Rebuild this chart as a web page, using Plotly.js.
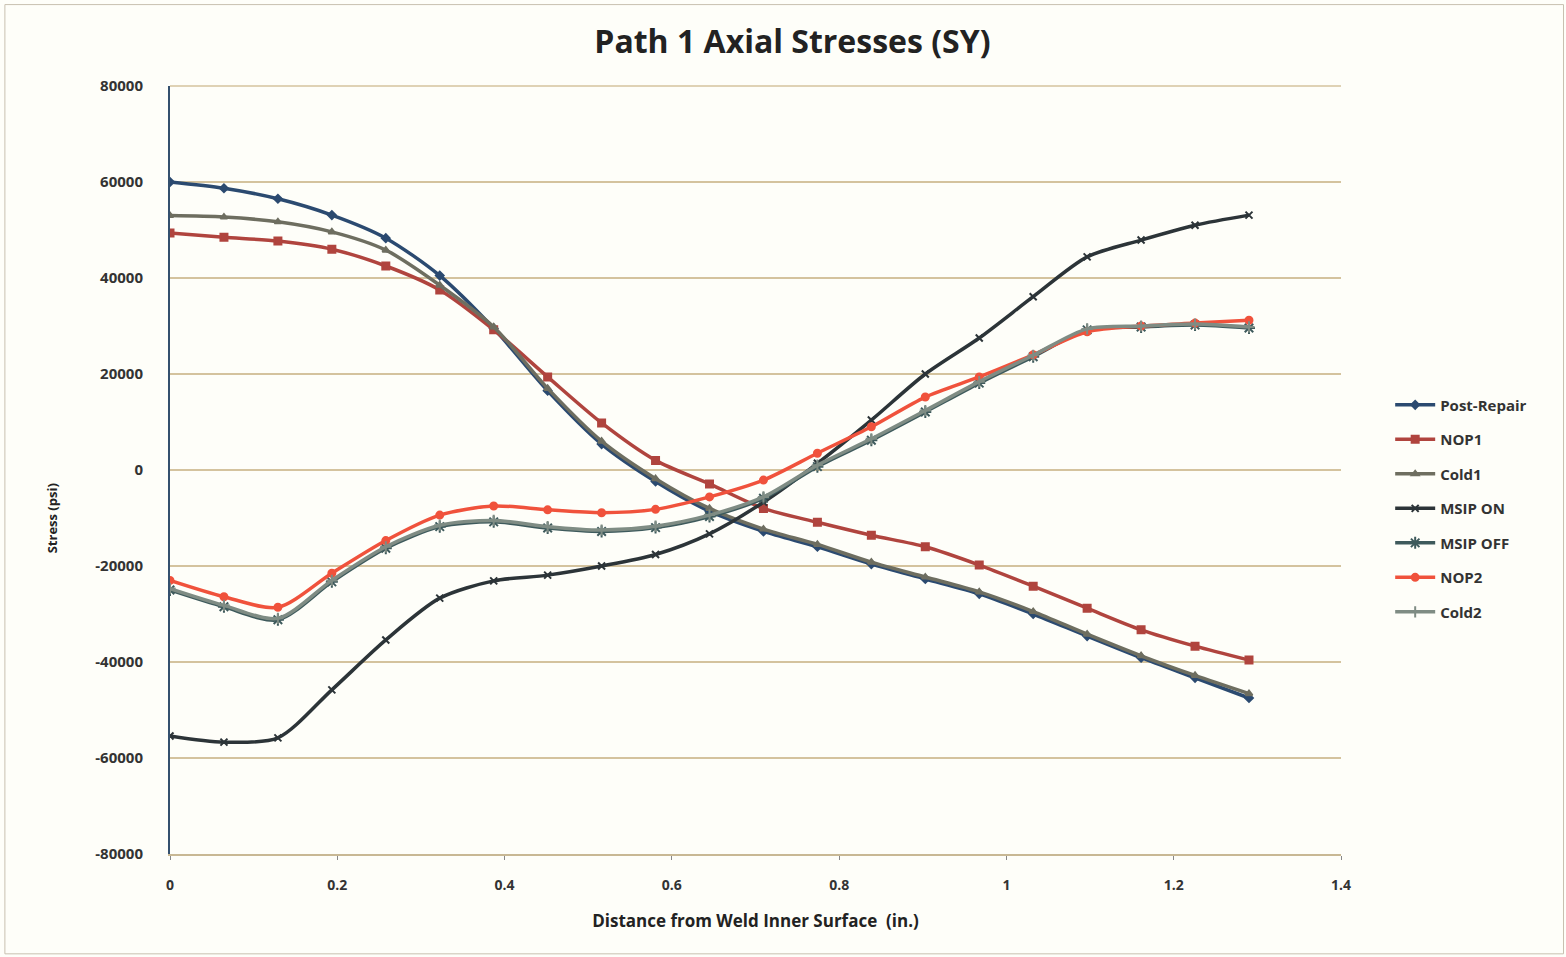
<!DOCTYPE html>
<html>
<head>
<meta charset="utf-8">
<script src="https://cdn.plot.ly/plotly-3.0.1.min.js"></script>
<style>html,body{margin:0;padding:0;background:#fefef9;}#chart{width:1566px;height:957px;}</style>
</head>
<body>
<div id="chart"></div>
<script>
// Distance from weld inner surface (in.)
const distance = [0, 0.0645, 0.129, 0.1935, 0.258, 0.3225, 0.387, 0.4515, 0.516, 0.5805, 0.645,
                  0.7095, 0.774, 0.8385, 0.903, 0.9675, 1.032, 1.0965, 1.161, 1.2255, 1.29];

const seriesNames = ["Post-Repair", "NOP1", "Cold1", "MSIP ON", "MSIP OFF", "NOP2", "Cold2"];

const postRepair = [60000, 58700, 56500, 53100, 48300, 40500, 29500, 16500, 5400, -2400, -8600,
                    -12800, -16000, -19600, -22700, -25800, -30000, -34600, -39100, -43300, -47500];
const nop1 = [49400, 48500, 47700, 46000, 42500, 37500, 29200, 19400, 9800, 2000, -2900,
              -8000, -10900, -13600, -16000, -19800, -24200, -28800, -33300, -36700, -39600];
const cold1 = [53000, 52700, 51700, 49600, 45800, 38500, 29800, 17000, 6000, -1800, -8000,
               -12300, -15500, -19200, -22300, -25400, -29500, -34200, -38700, -42800, -46600];
const msipOn = [-55400, -56700, -55800, -45800, -35400, -26700, -23100, -21900, -20000, -17600, -13300,
                -6700, 1400, 10400, 20000, 27500, 36100, 44400, 47900, 51000, 53100];
const msipOff = [-25000, -28500, -31200, -23300, -16300, -11800, -10800, -12100, -12800, -12000, -9700,
                 -5900, 700, 6200, 12100, 18100, 23600, 29200, 29800, 30200, 29600];
const nop2 = [-23000, -26400, -28600, -21500, -14700, -9400, -7500, -8300, -8900, -8200, -5600,
              -2100, 3500, 9000, 15200, 19400, 24000, 28800, 30000, 30600, 31200];
const cold2 = [-24700, -28200, -30900, -23000, -16000, -11500, -10500, -11800, -12500, -11700, -9400,
               -5600, 1000, 6500, 12400, 18400, 23900, 29400, 30000, 30400, 29800];

const yTickVals = [-80000, -60000, -40000, -20000, 0, 20000, 40000, 60000, 80000];
const yTickText = ["-80000", "-60000", "-40000", "-20000", "0", "20000", "40000", "60000", "80000"];
const xTickVals = [0, 0.2, 0.4, 0.6, 0.8, 1, 1.2, 1.4];
const xTickText = ["0", "0.2", "0.4", "0.6", "0.8", "1", "1.2", "1.4"];

const seriesValues = [postRepair, nop1, cold1, msipOn, msipOff, nop2, cold2];
const colors = ["#2b4a70", "#b0443e", "#6e6e60", "#2c3438", "#3e5a5c", "#f0523c", "#7f8c84"];
const symbols = ["diamond", "square", "triangle-up", "x-thin-open", "asterisk-open", "circle", "cross-thin-open"];
const msizes = [6, 7, 6, 7, 10, 7, 8];

const traces = seriesNames.map((name, i) => ({
  type: "scatter",
  mode: "lines+markers",
  name: name,
  legendgroup: "g" + i,
  x: distance,
  y: seriesValues[i],
  line: {color: colors[i], width: 3.5, shape: "spline", smoothing: 0.8},
  marker: {symbol: symbols[i], size: msizes[i], color: colors[i], line: {color: colors[i], width: 2}}
}));

const fam = "'Open Sans', Lato, sans-serif";

const layout = {
  width: 1566, height: 957,
  paper_bgcolor: "#fefef9",
  plot_bgcolor: "#fefef9",
  margin: {l: 170, r: 225, t: 86, b: 103},
  font: {family: fam, color: "#333333"},
  title: {
    text: "Path 1 Axial Stresses (SY)",
    font: {family: fam, size: 32, color: "#222222", weight: "bold"},
    x: 0.506, xanchor: "center", y: 0.956, yanchor: "middle"
  },
  xaxis: {
    range: [0, 1.4],
    tickvals: xTickVals, ticktext: xTickText,
    showgrid: false, zeroline: false,
    showline: true, linecolor: "#c8b894", linewidth: 1.5,
    ticks: "outside", ticklen: 4, tickcolor: "#888888",
    tickfont: {family: fam, size: 14, color: "#333333", weight: "bold"},
    ticklabelstandoff: 14,
    title: {text: "Distance from Weld Inner Surface  (in.)", font: {family: fam, size: 17, color: "#222222", weight: "bold"}, standoff: 22}
  },
  yaxis: {
    range: [-80000, 80000],
    tickvals: yTickVals, ticktext: yTickText,
    showgrid: true, gridcolor: "#d4c39e", gridwidth: 1.5,
    zeroline: true, zerolinecolor: "#d4c39e", zerolinewidth: 1.5,
    showline: true, linecolor: "#34506e", linewidth: 2,
    ticks: "",
    tickfont: {family: fam, size: 15, color: "#333333", weight: "bold"},
    ticklabelstandoff: 22
  },
  legend: {
    x: 1.042, xanchor: "left", y: 0.606, yanchor: "top",
    bgcolor: "rgba(0,0,0,0)",
    font: {family: fam, size: 15, color: "#333333", weight: "bold"},
    traceorder: "grouped", tracegroupgap: 12,
    itemwidth: 40
  },
  showlegend: true,
  annotations: [{
    text: "Stress (psi)", xref: "paper", yref: "paper", x: -0.1005, y: 0.4375,
    xanchor: "center", yanchor: "middle", textangle: -90, showarrow: false,
    font: {family: fam, size: 13, color: "#222222", weight: "bold"}
  }],
  shapes: [
    {type: "rect", xref: "paper", yref: "paper", x0: -0.141, x1: 1.19, y0: -0.13, y1: 1.106,
     line: {color: "#c8c0b0", width: 1}},
    {type: "line", xref: "paper", yref: "paper", x0: 0, x1: 1, y0: 1, y1: 1,
     line: {color: "#d4c39e", width: 1.5}}
  ]
};

Plotly.newPlot("chart", traces, layout, {displayModeBar: false, staticPlot: true});
</script>
</body>
</html>
